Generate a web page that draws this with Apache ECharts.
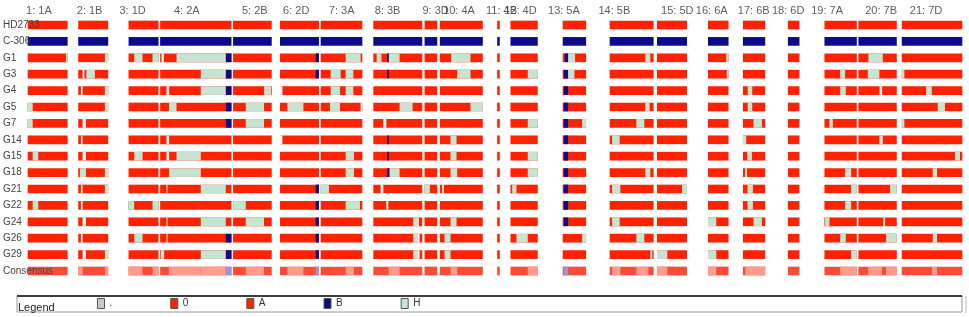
<!DOCTYPE html>
<html>
<head>
<meta charset="utf-8">
<script src="https://cdn.jsdelivr.net/npm/echarts@6/dist/echarts.min.js"></script>
<style>
	html, body { margin: 0; padding: 0; background: #fff; }
	#chart { width: 969px; height: 317px; }
</style>
</head>
<body>
<div id="chart"></div>
<script>
	// lines, top to bottom
	var lines = ['HD2733', 'C-306', 'G1', 'G3', 'G4', 'G5', 'G7', 'G14', 'G15', 'G18', 'G21', 'G22', 'G24', 'G26', 'G29', 'Consensus'];

	// chromosomes laid end to end on one map axis
	var chromNames = ['1A', '1B', '1D', '2A', '2B', '2D', '3A', '3B', '3D', '4A', '4B', '4D', '5A', '5B', '5D', '6A', '6B', '6D', '7A', '7B', '7D'];
	var chromStart = [26.7, 77.3, 127.7, 159.3, 232.3, 279.3, 320, 372.7, 424, 439.3, 496.7, 510, 562.3, 609.3, 656.7, 707.7, 742.7, 787.7, 824.3, 858.3, 901.7];
	var chromEnd = [66.7, 107.3, 157.7, 230.7, 271, 318.3, 361.7, 421.7, 436.7, 482.3, 499.3, 537.3, 585.7, 653.3, 686.7, 728.3, 765, 799.3, 856.7, 896.7, 962.3];
	// where each "n: name" heading is centred
	var chromLabelAt = [38, 88.7, 131.7, 186, 254, 295.5, 341, 387, 435, 458.5, 501, 520, 563.5, 614, 677, 711.5, 753.5, 788, 827, 881, 926];

	// stretches that are not A, per line: [from, to, call]   N = no call
	var G1 = [[65, 66.7, 'H'], [104, 107.3, 'H'], [133.3, 141.7, 'H'], [151.7, 157.7, 'H'], [160.7, 163, 'N'], [175.7, 225, 'H'], [225, 230.7, 'B'], [315, 318.3, 'B'], [345, 360, 'H'], [376, 380, 'H'], [380, 380.7, 'N'], [386.7, 388.3, 'B'], [388.3, 399, 'H'], [450.7, 470, 'H'], [564.3, 567.7, 'B'], [567.7, 574.7, 'H'], [645, 650, 'H'], [726, 728.3, 'H'], [868.3, 882.7, 'H']];
	var G3 = [[81.7, 83.5, 'N'], [85.5, 94, 'H'], [200, 225, 'H'], [225, 230.7, 'B'], [315, 318.3, 'B'], [330, 340, 'H'], [345, 352.7, 'H'], [386.7, 388.3, 'B'], [456.7, 470, 'H'], [527.3, 537.3, 'H'], [563.3, 567.7, 'B'], [567.7, 574, 'H'], [726.5, 728.3, 'H'], [840, 845, 'H'], [867.7, 879.3, 'H'], [901.7, 904.3, 'H']];
	var G4 = [[80, 81.7, 'N'], [104, 107.3, 'H'], [165.7, 168.3, 'N'], [200, 225, 'H'], [225, 230.7, 'B'], [263.3, 269.3, 'H'], [269.3, 270, 'N'], [279.3, 281.7, 'N'], [330, 339.3, 'H'], [345, 352.7, 'H'], [563.3, 567.7, 'B'], [747.5, 752, 'H'], [840, 845.7, 'H'], [879.5, 882, 'N'], [926, 931.7, 'H']];
	var G5 = [[26.7, 31.7, 'H'], [104, 107.3, 'H'], [168.3, 175.7, 'H'], [225, 230.7, 'B'], [245, 263.3, 'H'], [286.7, 302.7, 'H'], [329.3, 339.3, 'H'], [360, 361.7, 'N'], [399, 412, 'H'], [470, 482.3, 'H'], [563.3, 567.7, 'B'], [645, 649.3, 'H'], [747.5, 752, 'H'], [937.7, 945, 'H']];
	var G7 = [[26.7, 31.7, 'H'], [81.7, 85, 'N'], [225, 230.7, 'B'], [245, 263.3, 'H'], [382.7, 385.7, 'N'], [527.3, 537.3, 'H'], [563.3, 567.7, 'B'], [581.7, 585.7, 'H'], [636, 644, 'H'], [753.3, 761.7, 'H'], [829.3, 832.7, 'H'], [901.7, 904.3, 'H']];
	var G14 = [[80, 81.7, 'H'], [165.7, 168.3, 'N'], [279.3, 281.7, 'N'], [386.7, 388.3, 'B'], [450, 456, 'H'], [563.3, 567.7, 'B'], [611.7, 619.3, 'H'], [742.7, 746, 'H'], [879.3, 882.7, 'H']];
	var G15 = [[31.7, 37.3, 'H'], [81.7, 85, 'N'], [133.3, 141.7, 'H'], [165.7, 168.3, 'N'], [175.7, 200, 'H'], [345, 353.3, 'H'], [386.7, 388.3, 'B'], [450, 456, 'H'], [527.3, 537.3, 'H'], [563.3, 567.7, 'B'], [747, 751.7, 'H'], [955, 960, 'H']];
	var G18 = [[79, 85, 'H'], [104, 107.3, 'H'], [168.3, 200, 'H'], [345, 353.3, 'H'], [386.7, 389, 'B'], [389, 399, 'H'], [450, 456.7, 'H'], [527.3, 537.3, 'H'], [563.3, 567.7, 'B'], [645, 650, 'H'], [745, 746.7, 'N'], [845, 851, 'H'], [932.7, 937, 'H']];
	var G21 = [[80, 81.7, 'H'], [104, 107.3, 'H'], [165.7, 166.7, 'N'], [200, 225, 'H'], [315, 318.3, 'B'], [320, 328.3, 'H'], [380, 382.7, 'N'], [424, 429.3, 'H'], [441.7, 443.3, 'N'], [511.7, 516, 'H'], [563.3, 567.7, 'B'], [611.7, 620, 'H'], [681.7, 686.7, 'H'], [747.3, 752.7, 'H'], [851, 856.7, 'H'], [890, 896.7, 'H']];
	var G22 = [[31.7, 37.3, 'H'], [80, 81.7, 'N'], [127.7, 133.3, 'H'], [151.7, 157.7, 'H'], [232.3, 245, 'H'], [315, 318.3, 'B'], [345, 359.3, 'H'], [385.7, 387.7, 'N'], [563.3, 567.7, 'B'], [747.3, 752.7, 'H'], [845, 851, 'H']];
	var G24 = [[81.7, 85, 'N'], [165.7, 166.7, 'N'], [200, 225, 'H'], [245, 263.3, 'H'], [315, 318.3, 'B'], [412.7, 416.7, 'H'], [416.7, 418.3, 'N'], [450, 456, 'H'], [563.3, 567.7, 'B'], [611.7, 619.3, 'H'], [707.7, 716, 'H'], [753.3, 761.7, 'H'], [825, 829.3, 'H'], [883.3, 885, 'N']];
	var G26 = [[80, 81.7, 'N'], [133.3, 141.7, 'H'], [165.7, 166.7, 'N'], [225, 230.7, 'B'], [315, 318.3, 'B'], [412.7, 416.7, 'H'], [416.7, 419, 'N'], [444, 450, 'H'], [516, 527.3, 'H'], [581.7, 585.7, 'H'], [636, 644, 'H'], [840, 845.7, 'H'], [886, 896.7, 'H'], [932.7, 937, 'H']];
	var G29 = [[81.7, 85, 'N'], [104, 107.3, 'H'], [160, 163.3, 'H'], [200, 225, 'H'], [225, 230.7, 'B'], [315, 318.3, 'B'], [412.7, 416.7, 'H'], [416.7, 419, 'N'], [444, 450, 'H'], [650, 652, 'H'], [656.7, 667, 'H'], [707.7, 716, 'H'], [851, 856.7, 'H']];

	// consensus row: 1 = mixed (pale), 2 = some B (lilac)
	var consensusShade = [[77.3, 81.7, 1], [104, 107.3, 1], [127.7, 141.7, 1], [151.7, 157.7, 1], [168, 200, 1], [200, 225, 1], [225, 230.7, 2], [245, 263.3, 1], [286.7, 302.7, 1], [315, 318.3, 2], [345, 353.3, 1], [388, 399, 1], [450, 456.7, 1], [527.3, 537.3, 1], [563.3, 567.7, 2], [611.7, 620, 1], [636, 648, 1], [656.7, 667, 1], [707.7, 716, 1], [745, 765, 1], [840, 856.7, 1], [868, 882, 1], [886, 897, 1], [932, 937, 1]];

	// legend entries
	var legendNames = ['.', '0', 'A', 'B', 'H'];
	var legendColors = ['#c8c8c8', '#ff2200', '#ff2200', '#0c0c8a', '#c6e4d2'];

	var calls = {G1: G1, G3: G3, G4: G4, G5: G5, G7: G7, G14: G14, G15: G15, G18: G18, G21: G21, G22: G22, G24: G24, G26: G26, G29: G29};

	var dataA = [], dataB = [], dataH = [], dataN = [], dataCons = [];
	lines.forEach(function (line, row) {
		chromStart.forEach(function (s, c) {
			var seg = [s, chromEnd[c], row];
			if (line === 'C-306') dataB.push(seg);
			else if (line === 'Consensus') dataCons.push({value: seg, itemStyle: {color: '#ff4a36'}});
			else dataA.push(seg);
		});
		(calls[line] || []).forEach(function (d) {
			var seg = [d[0], d[1], row];
			if (d[2] === 'B') dataB.push(seg);
			else if (d[2] === 'H') dataH.push(seg);
			else dataN.push(seg);
		});
	});
	consensusShade.forEach(function (d) {
		dataCons.push({value: [d[0], d[1], lines.length - 1], itemStyle: {color: d[2] === 2 ? '#9c94d8' : '#ff9c8e'}});
	});

	function bar(params, api) {
		var a = api.coord([api.value(0), api.value(2)]);
		var b = api.coord([api.value(1), api.value(2)]);
		var h = api.size([0, 1])[1] * 0.53;
		return {
			type: 'rect',
			shape: {x: a[0], y: a[1] - h / 2, width: Math.max(b[0] - a[0], 0.8), height: h},
			style: api.style()
		};
	}

	function segSeries(name, color, data) {
		return {
			type: 'custom',
			name: name,
			renderItem: bar,
			encode: {x: [0, 1], y: 2},
			itemStyle: {color: color},
			data: data,
			silent: true
		};
	}

	var option = {
		animation: false,
		title: {
			text: 'Legend',
			left: 18,
			top: 302,
			padding: 0,
			textStyle: {fontSize: 11, fontWeight: 'normal', color: '#222', fontFamily: 'Liberation Sans'}
		},
		legend: {
			data: legendNames,
			left: 97,
			top: 298,
			padding: 0,
			icon: 'rect',
			itemWidth: 7,
			itemHeight: 10,
			itemGap: 58,
			selectedMode: false,
			itemStyle: {borderColor: '#555', borderWidth: 1},
			textStyle: {fontSize: 10, color: '#333', fontFamily: 'Liberation Sans', padding: [6, 0, 0, 0]}
		},
		grid: {left: 0, right: 0, top: 16.8, bottom: 37.8},
		xAxis: {type: 'value', min: 0, max: 969, show: false},
		yAxis: {
			type: 'category',
			data: lines,
			inverse: true,
			z: 10,
			axisLine: {show: false},
			axisTick: {show: false},
			splitLine: {show: false},
			axisLabel: {inside: true, margin: 2, fontSize: 10, color: '#444', fontFamily: 'Liberation Sans'}
		},
		graphic: [
			{type: 'rect', shape: {x: 17, y: 296, width: 945, height: 16}, style: {fill: 'none', stroke: '#999', lineWidth: 1}, silent: true},
			{type: 'line', shape: {x1: 17, y1: 296, x2: 962, y2: 296}, style: {stroke: '#111', lineWidth: 1.5}, silent: true},
			{type: 'line', shape: {x1: 966, y1: 296, x2: 966, y2: 313}, style: {stroke: '#bbb', lineWidth: 1}, silent: true}
		],
		series: [
			segSeries('.', legendColors[0], []),
			segSeries('0', legendColors[1], []),
			segSeries('A', legendColors[2], dataA),
			segSeries('B', legendColors[3], dataB),
			segSeries('H', legendColors[4], dataH),
			segSeries('nocall', '#ffffff', dataN),
			segSeries('consensus', '#ff4a36', dataCons),
			{
				type: 'scatter',
				name: 'chromosomes',
				symbolSize: 1,
				itemStyle: {color: 'rgba(0,0,0,0)'},
				silent: true,
				label: {
					show: true,
					position: 'top',
					distance: 8,
					formatter: '{b}',
					fontSize: 11,
					color: '#333',
					fontFamily: 'Liberation Sans'
				},
				data: chromLabelAt.map(function (x, i) {
					return {name: (i + 1) + ': ' + chromNames[i], value: [x, 0]};
				})
			}
		]
	};

	var chart = echarts.init(document.getElementById('chart'));
	chart.setOption(option);
	window.addEventListener('resize', function () {
		chart.resize();
	});
</script>
</body>
</html>
